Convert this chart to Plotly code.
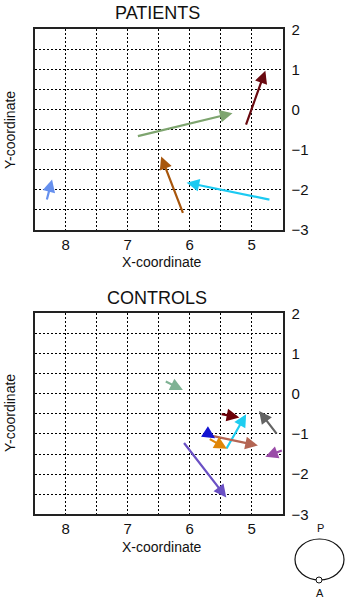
import plotly.graph_objects as go

# ---- data ----
pat_x0 = [8.31, 6.86, 5.10, 6.10, 4.69]
pat_y0 = [-2.28, -0.67, -0.41, -2.61, -2.25]
pat_x1 = [8.22, 5.31, 4.78, 6.46, 6.05]
pat_y1 = [-1.74, -0.09, 0.97, -1.17, -1.82]
pat_colors = ["#6690ee", "#7ea56f", "#6a0a10", "#a8560c", "#1ccaf2"]

con_x0 = [6.41, 5.51, 4.58, 5.42, 5.70, 5.70, 5.70, 6.11, 4.49]
con_y0 = [0.32, -0.50, -1.03, -1.40, -1.03, -1.11, -1.00, -1.19, -1.40]
con_x1 = [6.11, 5.20, 4.88, 5.09, 4.90, 5.40, 5.59, 5.41, 4.78]
con_y1 = [0.09, -0.59, -0.43, -0.51, -1.29, -1.37, -1.11, -2.58, -1.57]
con_colors = ["#7fb294", "#6a0008", "#646464", "#1ecdf0", "#b46654",
              "#e08608", "#1414d2", "#6a50c4", "#9a4ca8"]

x_ticks = [8, 7, 6, 5]
y_ticks = [2, 1, 0, -1, -2, -3]
titles = ["PATIENTS", "CONTROLS"]

W, H = 347, 602
FONT = "Liberation Sans, Arial, sans-serif"
GRID_DASH = "2px,2px"

fig = go.Figure()

def px_x(p):
    return p / W

def px_y(p):
    return 1 - p / H

panels = [
    dict(top=29.3, bottom=230.0, xa="x", ya="y", title_y=13,
         xt_y=262, yt_y=130, x0=pat_x0, y0=pat_y0, x1=pat_x1, y1=pat_y1, c=pat_colors),
    dict(top=313.3, bottom=514.3, xa="x2", ya="y2", title_y=298,
         xt_y=547, yt_y=413, x0=con_x0, y0=con_y0, x1=con_x1, y1=con_y1, c=con_colors),
]

left, right = 34.7, 282.7
annotations = []
for i, p in enumerate(panels):
    fig.add_trace(go.Scatter(x=[None], y=[None], xaxis=p["xa"], yaxis=p["ya"],
                             showlegend=False, hoverinfo="skip"))
    axkey = "xaxis" if i == 0 else "xaxis2"
    aykey = "yaxis" if i == 0 else "yaxis2"
    fig.layout[axkey] = dict(
        domain=[px_x(left), px_x(right)], range=[8.5, 4.5], automargin=False,
        anchor=p["ya"], tickvals=x_ticks, ticks="", ticklen=0, showgrid=True,
        gridcolor="black", griddash=GRID_DASH, gridwidth=1.4,
        minor=dict(dtick=0.5, tick0=0, showgrid=True, gridcolor="black",
                   griddash=GRID_DASH, gridwidth=1.4),
        showline=True, linecolor="#222", linewidth=1.6, mirror=True,
        zeroline=False, tickfont=dict(family=FONT, size=15, color="#111"),
        ticklabelstandoff=0, fixedrange=True,
    )
    fig.layout[aykey] = dict(
        domain=[px_y(p["bottom"]), px_y(p["top"])], range=[-3, 2], automargin=False,
        anchor=p["xa"], side="right", tickvals=y_ticks, ticks="", ticklen=0,
        showgrid=True, gridcolor="black", griddash=GRID_DASH, gridwidth=1.4,
        minor=dict(dtick=0.5, tick0=0, showgrid=True, gridcolor="black",
                   griddash=GRID_DASH, gridwidth=1.4),
        showline=True, linecolor="#222", linewidth=1.6, mirror=True,
        zeroline=False, tickfont=dict(family=FONT, size=15, color="#111"),
        ticklabelstandoff=4, fixedrange=True,
    )
    annotations.append(dict(text=titles[i], x=px_x(157), y=px_y(p["title_y"]),
                            xref="paper", yref="paper", showarrow=False,
                            xanchor="center", yanchor="middle",
                            font=dict(family=FONT, size=18, color="#111")))
    annotations.append(dict(text="X-coordinate", x=px_x(162), y=px_y(p["xt_y"]),
                            xref="paper", yref="paper", showarrow=False,
                            xanchor="center", yanchor="middle",
                            font=dict(family=FONT, size=14, color="#111")))
    annotations.append(dict(text="Y-coordinate", x=px_x(10), y=px_y(p["yt_y"]),
                            xref="paper", yref="paper", showarrow=False,
                            textangle=-90, xanchor="center", yanchor="middle",
                            font=dict(family=FONT, size=14, color="#111")))
    for xs, ys, xe, ye, col in zip(p["x0"], p["y0"], p["x1"], p["y1"], p["c"]):
        annotations.append(dict(x=xe, y=ye, ax=xs, ay=ys, xref=p["xa"], yref=p["ya"],
                                axref=p["xa"], ayref=p["ya"], text="", showarrow=True,
                                arrowhead=2, arrowsize=1.15, arrowwidth=2.2,
                                arrowcolor=col, standoff=0, startstandoff=0))

# orientation glyph: P / A circle
annotations.append(dict(text="P", x=px_x(320), y=px_y(528), xref="paper", yref="paper",
                        xanchor="center", yanchor="middle", showarrow=False,
                        font=dict(family=FONT, size=11, color="#111")))
annotations.append(dict(text="A", x=px_x(320), y=px_y(593), xref="paper", yref="paper",
                        xanchor="center", yanchor="middle", showarrow=False,
                        font=dict(family=FONT, size=11, color="#111")))

shapes = [
    dict(type="circle", xref="paper", yref="paper",
         x0=px_x(295), x1=px_x(344), y0=px_y(580), y1=px_y(539),
         line=dict(color="#111", width=1.2), fillcolor="rgba(0,0,0,0)"),
    dict(type="circle", xref="paper", yref="paper",
         x0=px_x(316), x1=px_x(322), y0=px_y(583), y1=px_y(577),
         line=dict(color="#111", width=1), fillcolor="white"),
]

fig.update_layout(width=W, height=H, margin=dict(l=0, r=0, t=0, b=0, autoexpand=False),
                  paper_bgcolor="white", plot_bgcolor="white",
                  annotations=annotations, shapes=shapes, showlegend=False)

fig.write_html("out.html", config={"displayModeBar": False},
               post_script="document.body.style.margin='0';document.body.style.overflow='hidden';")
